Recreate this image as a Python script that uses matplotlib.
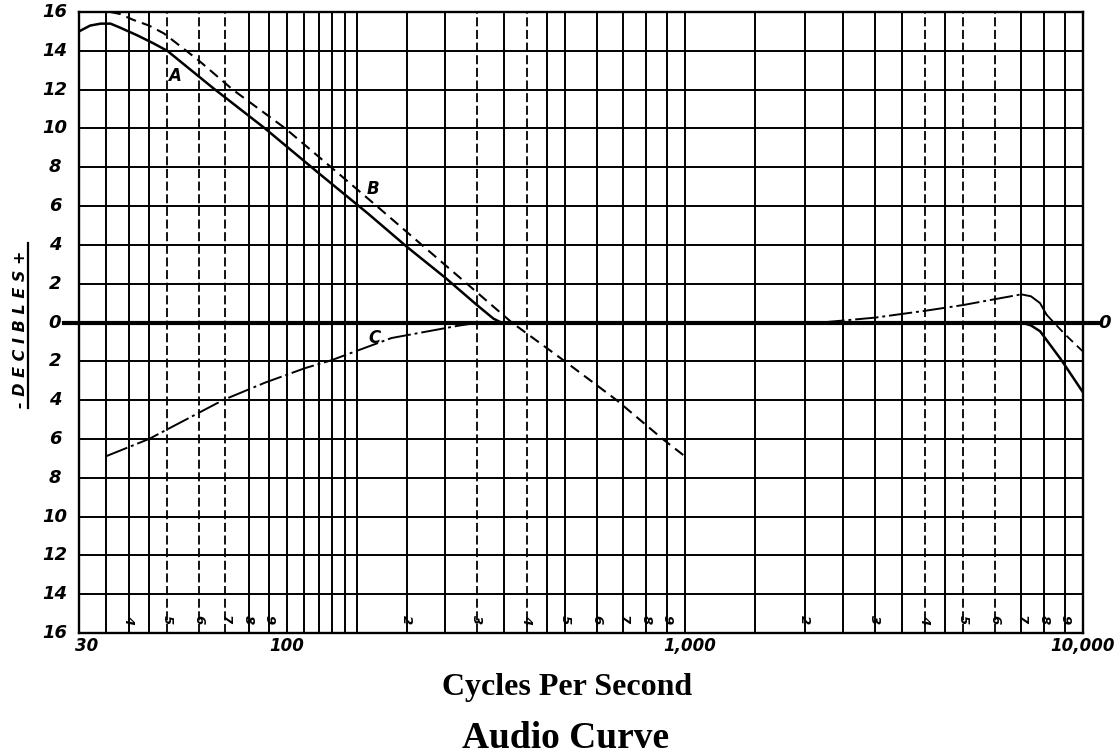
import matplotlib
matplotlib.use("Agg")
import matplotlib.pyplot as plt
from matplotlib.lines import Line2D
from matplotlib.transforms import blended_transform_factory, offset_copy

# curve A (solid) - left slope, flat along 0, high-frequency droop
a_freq = [30, 32, 34, 36, 38, 42, 46, 50, 65, 88, 120, 160, 200, 250, 300, 330, 345,
          1000, 7000, 7400, 7800, 8800, 10000]
a_db = [15.0, 15.3, 15.4, 15.4, 15.2, 14.8, 14.4, 14.0, 12.1, 10.0, 7.7, 5.6, 3.9, 2.3,
        0.9, 0.2, 0.0, 0.0, 0.0, -0.15, -0.45, -1.9, -3.6]

# curve B (dashed)
b_freq = [36, 38, 41, 45, 49, 60, 73, 99, 129, 168, 218, 283, 367, 499, 673, 878, 1000]
b_db = [16.0, 15.9, 15.6, 15.3, 14.9, 13.5, 12.0, 10.0, 8.0, 6.0, 4.0, 2.0, 0.0,
        -2.0, -4.0, -6.0, -6.9]

# curve C (dash-dot) - low end
c_freq = [35, 45, 69, 88, 111, 129, 183, 272, 305]
c_db = [-6.9, -6.0, -4.0, -3.1, -2.35, -1.95, -0.8, -0.15, 0.0]

# high-frequency rise, knee and dashed fall
hf_freq = [2200, 3000, 4000, 5000, 6000, 7000]
hf_db = [0.0, 0.25, 0.6, 0.9, 1.2, 1.45]
knee_freq = [7000, 7400, 7800, 8100]
knee_db = [1.45, 1.35, 1.0, 0.4]
fall_freq = [8100, 9000, 10000]
fall_db = [0.4, -0.6, -1.5]

grid_solid = [35, 40, 45, 80, 90, 100, 110, 120, 130, 140, 150, 200, 250, 350, 450,
              500, 600, 700, 800, 900, 1000, 1500, 2000, 2500, 3000, 3500, 4500,
              7000, 8000, 9000]
grid_dashed = [50, 60, 70, 300, 400, 4000, 5000, 6000]
db_levels = list(range(-16, 17, 2))

major_ticks = [30, 100, 1000, 10000]
major_labels = ["30", "100", "1,000", "10,000"]
minor_ticks = [40, 50, 60, 70, 80, 90,
               200, 300, 400, 500, 600, 700, 800, 900,
               2000, 3000, 4000, 5000, 6000, 7000, 8000, 9000]
minor_labels = ["4", "5", "6", "7", "8", "9",
                "2", "3", "4", "5", "6", "7", "8", "9",
                "2", "3", "4", "5", "6", "7", "8", "9"]

hand = dict(family="DejaVu Sans", style="italic", weight="bold", color="black")

W, H = 1117, 756
fig = plt.figure(figsize=(W / 100, H / 100), dpi=100)
fig.patch.set_facecolor("white")
ax = fig.add_axes([79 / W, 1 - 633 / H, (1083 - 79) / W, (633 - 12) / H])
ax.set_xscale("log")
ax.set_xlim(30, 10000)
ax.set_ylim(-16, 16)
for s in ax.spines.values():
    s.set_linewidth(1.7)
ax.set_xticks([])
ax.set_yticks([])
ax.minorticks_off()

# graph paper grid
for f in grid_solid:
    ax.axvline(f, color="black", lw=1.4, zorder=1)
for f in grid_dashed:
    ax.axvline(f, color="black", lw=1.3, ls=(0, (5, 2)), zorder=1)
for d in db_levels:
    if d != 0:
        ax.axhline(d, color="black", lw=1.4, zorder=1)
# heavy zero line, running a bit past the frame on both sides
ax.add_line(Line2D([27.5, 11100], [0, 0], color="black", lw=3.0, clip_on=False, zorder=2))

# curves
ax.plot(a_freq, a_db, color="black", lw=1.8, zorder=3)
ax.plot(b_freq, b_db, color="black", lw=1.5, ls=(0, (5, 3)), zorder=3)
ax.plot(c_freq, c_db, color="black", lw=1.4, ls=(0, (12, 2, 1.5, 2)), zorder=3)
ax.plot(hf_freq, hf_db, color="black", lw=1.4, ls=(0, (12, 2, 1.5, 2)), zorder=3)
ax.plot(knee_freq, knee_db, color="black", lw=1.4, zorder=3)
ax.plot(fall_freq, fall_db, color="black", lw=1.3, ls=(0, (5, 3)), zorder=3)

ax.text(52, 12.7, "A", fontsize=12, ha="center", va="center", **hand)
ax.text(164, 6.9, "B", fontsize=12, ha="center", va="center", **hand)
ax.text(166, -0.8, "C", fontsize=12, ha="center", va="center", **hand)

# sideways digits along the bottom of each decade
for f, lab in zip(minor_ticks, minor_labels):
    ax.text(f, -15.3, lab, fontsize=9.5, rotation=-90, ha="center", va="center",
            zorder=4, **hand)

# frequency labels under the frame
bt = blended_transform_factory(ax.transData, ax.transAxes)
for f, lab in zip(major_ticks, major_labels):
    dx = 8 if f == 30 else (5 if f == 1000 else 0)
    tr = offset_copy(bt, fig=fig, x=dx, y=-13, units="dots")
    ax.text(f, 0, lab, transform=tr, fontsize=12, ha="center", va="center", **hand)

# decibel labels, both halves counted from zero
lt = blended_transform_factory(ax.transAxes, ax.transData)
for d in db_levels:
    tr = offset_copy(lt, fig=fig, x=-24, y=0, units="dots")
    ax.text(0, d, str(abs(d)), transform=tr, fontsize=13, ha="center", va="center", **hand)
tr = offset_copy(lt, fig=fig, x=22, y=0, units="dots")
ax.text(1, 0, "0", transform=tr, fontsize=13, ha="center", va="center", **hand)

fig.text(21 / W, 1 - 329 / H, "- D E C I B L E S +", rotation=90, fontsize=11.5,
         ha="center", va="center", **hand)
fig.add_artist(Line2D([28 / W, 28 / W], [1 - 243 / H, 1 - 408 / H], color="black", lw=1.6))

fig.text(567 / W, 1 - 695 / H, "Cycles Per Second", fontsize=23, ha="center",
         va="baseline", family="Liberation Serif", weight="bold")
fig.text(566 / W, 1 - 748 / H, "Audio Curve", fontsize=27, ha="center",
         va="baseline", family="Liberation Serif", weight="bold")

fig.savefig("out.png", dpi=100)
